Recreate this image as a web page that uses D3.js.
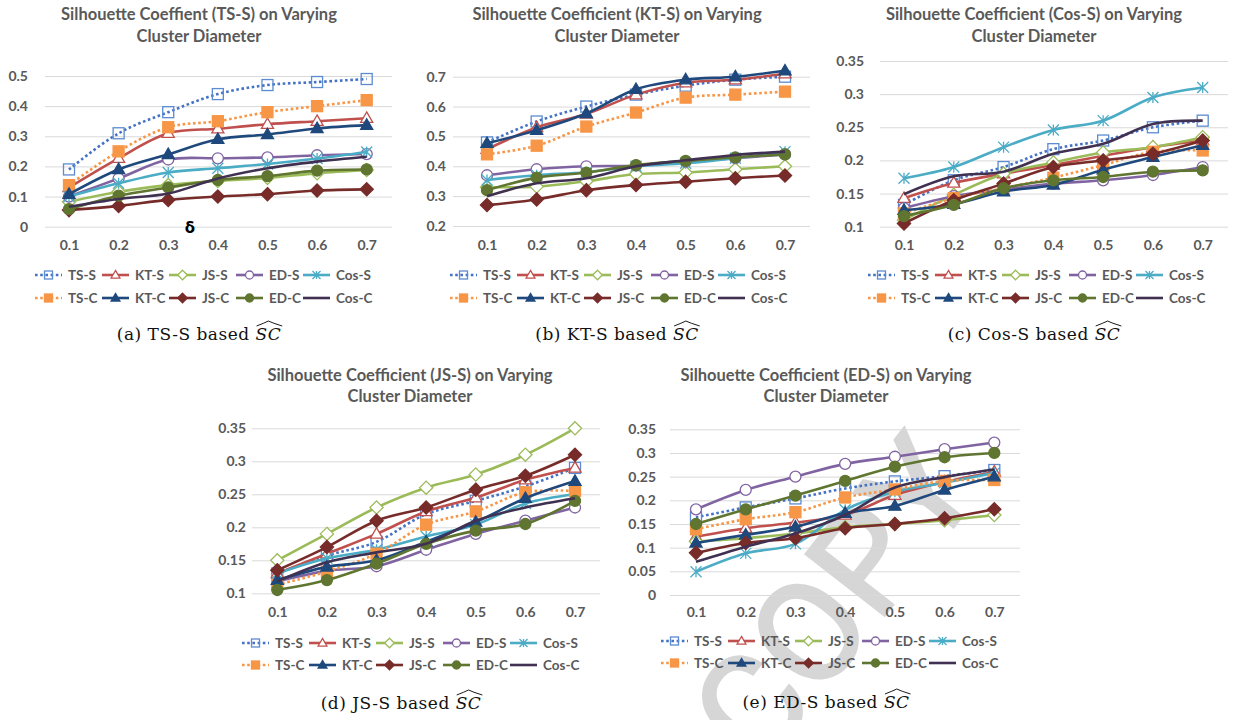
<!DOCTYPE html>
<html><head><meta charset="utf-8">
<script src="https://cdn.jsdelivr.net/npm/d3@7"></script>
<style>body{margin:0;background:#fff}svg{display:block}</style>
</head><body>
<svg id="chart" width="1235" height="720"></svg>
<script>
// ---------- DATA ----------
const xCats = [0.1, 0.2, 0.3, 0.4, 0.5, 0.6, 0.7];
const xLabels = ["0.1", "0.2", "0.3", "0.4", "0.5", "0.6", "0.7"];
const seriesNames = ["TS-S", "KT-S", "JS-S", "ED-S", "Cos-S", "TS-C", "KT-C", "JS-C", "ED-C", "Cos-C"];

// (a) TS-S based
const valuesA = [
  [0.19, 0.31, 0.38, 0.44, 0.47, 0.48, 0.49],
  [0.13, 0.227, 0.31, 0.325, 0.34, 0.35, 0.36],
  [0.083, 0.116, 0.138, 0.152, 0.162, 0.177, 0.188],
  [0.10, 0.16, 0.223, 0.227, 0.23, 0.237, 0.241],
  [0.10, 0.144, 0.18, 0.194, 0.208, 0.226, 0.248],
  [0.138, 0.25, 0.33, 0.35, 0.38, 0.40, 0.42],
  [0.108, 0.19, 0.24, 0.29, 0.306, 0.326, 0.337],
  [0.055, 0.069, 0.089, 0.10, 0.108, 0.12, 0.124],
  [0.058, 0.103, 0.13, 0.155, 0.168, 0.186, 0.19],
  [0.066, 0.092, 0.11, 0.16, 0.194, 0.216, 0.232]
];
// (b) KT-S based
const valuesB = [
  [0.48, 0.55, 0.60, 0.64, 0.67, 0.69, 0.70],
  [0.457, 0.53, 0.575, 0.64, 0.68, 0.69, 0.71],
  [0.33, 0.332, 0.35, 0.374, 0.379, 0.39, 0.40],
  [0.37, 0.39, 0.40, 0.402, 0.415, 0.427, 0.44],
  [0.354, 0.37, 0.38, 0.40, 0.41, 0.427, 0.449],
  [0.44, 0.469, 0.533, 0.58, 0.63, 0.64, 0.65],
  [0.477, 0.521, 0.577, 0.658, 0.69, 0.70, 0.72],
  [0.27, 0.289, 0.32, 0.337, 0.348, 0.36, 0.369],
  [0.32, 0.362, 0.379, 0.404, 0.418, 0.43, 0.44],
  [0.30, 0.343, 0.36, 0.40, 0.42, 0.438, 0.449]
];
// (c) Cos-S based
const valuesC = [
  [0.133, 0.17, 0.19, 0.217, 0.23, 0.25, 0.26],
  [0.143, 0.166, 0.18, 0.193, 0.207, 0.22, 0.23],
  [0.11, 0.148, 0.18, 0.197, 0.212, 0.22, 0.235],
  [0.128, 0.146, 0.156, 0.165, 0.17, 0.178, 0.19],
  [0.173, 0.19, 0.22, 0.246, 0.26, 0.295, 0.31],
  [0.12, 0.143, 0.158, 0.174, 0.193, 0.213, 0.215],
  [0.125, 0.134, 0.153, 0.163, 0.186, 0.205, 0.223],
  [0.105, 0.14, 0.165, 0.19, 0.20, 0.21, 0.23],
  [0.116, 0.133, 0.158, 0.17, 0.175, 0.183, 0.185],
  [0.149, 0.176, 0.183, 0.21, 0.225, 0.255, 0.26]
];
// (d) JS-S based
const valuesD = [
  [0.13, 0.157, 0.178, 0.22, 0.24, 0.262, 0.29],
  [0.13, 0.16, 0.19, 0.224, 0.245, 0.272, 0.29],
  [0.15, 0.19, 0.23, 0.26, 0.28, 0.31, 0.35],
  [0.118, 0.134, 0.141, 0.166, 0.19, 0.21, 0.23],
  [0.13, 0.153, 0.166, 0.186, 0.204, 0.236, 0.25],
  [0.113, 0.133, 0.16, 0.204, 0.224, 0.253, 0.255],
  [0.12, 0.14, 0.15, 0.178, 0.208, 0.244, 0.27],
  [0.135, 0.17, 0.21, 0.23, 0.257, 0.278, 0.31],
  [0.105, 0.12, 0.145, 0.175, 0.195, 0.205, 0.24],
  [0.118, 0.147, 0.162, 0.175, 0.21, 0.23, 0.244]
];
// (e) ED-S based
const valuesE = [
  [0.164, 0.185, 0.204, 0.225, 0.24, 0.251, 0.264],
  [0.123, 0.141, 0.153, 0.169, 0.211, 0.239, 0.26],
  [0.113, 0.12, 0.13, 0.143, 0.15, 0.158, 0.169],
  [0.181, 0.222, 0.25, 0.277, 0.292, 0.308, 0.322],
  [0.049, 0.088, 0.108, 0.18, 0.218, 0.237, 0.258],
  [0.139, 0.16, 0.175, 0.206, 0.223, 0.241, 0.243],
  [0.11, 0.127, 0.144, 0.173, 0.188, 0.222, 0.25],
  [0.089, 0.11, 0.12, 0.141, 0.15, 0.162, 0.181],
  [0.15, 0.181, 0.21, 0.241, 0.271, 0.291, 0.30],
  [0.07, 0.102, 0.13, 0.169, 0.227, 0.249, 0.265]
];

const yTicksA = [0, 0.1, 0.2, 0.3, 0.4, 0.5];
const yTicksB = [0.2, 0.3, 0.4, 0.5, 0.6, 0.7];
const yTicksC = [0.1, 0.15, 0.2, 0.25, 0.3, 0.35];
const yTicksD = [0.1, 0.15, 0.2, 0.25, 0.3, 0.35];
const yTicksE = [0, 0.05, 0.1, 0.15, 0.2, 0.25, 0.3, 0.35];

const titlesA = ["Silhouette Coeffient (TS-S) on Varying", "Cluster Diameter"];
const titlesB = ["Silhouette Coefficient (KT-S) on Varying", "Cluster Diameter"];
const titlesC = ["Silhouette Coefficient (Cos-S) on Varying", "Cluster Diameter"];
const titlesD = ["Silhouette Coefficient (JS-S) on Varying", "Cluster Diameter"];
const titlesE = ["Silhouette Coefficient (ED-S) on Varying", "Cluster Diameter"];
const captions = ["(a) TS-S based ", "(b) KT-S based ", "(c) Cos-S based ", "(d) JS-S based ", "(e) ED-S based "];

// ---------- STYLES ----------
const styles = {
  "TS-S":  {color: "#4472C4", dash: "2.6,2.6", marker: "square",   filled: false, mcolor: "#5B8BD0"},
  "KT-S":  {color: "#C0504D", dash: null,      marker: "triangle", filled: false, mcolor: "#C0504D"},
  "JS-S":  {color: "#9BBB59", dash: null,      marker: "diamond",  filled: false, mcolor: "#9BBB59"},
  "ED-S":  {color: "#8064A2", dash: null,      marker: "circle",   filled: false, mcolor: "#8064A2"},
  "Cos-S": {color: "#4BACC6", dash: null,      marker: "star",     filled: false, mcolor: "#4BACC6"},
  "TS-C":  {color: "#F79646", dash: "2.6,2.6", marker: "square",   filled: true,  mcolor: "#F79646"},
  "KT-C":  {color: "#1F497D", dash: null,      marker: "triangle", filled: true,  mcolor: "#1F497D"},
  "JS-C":  {color: "#772C2A", dash: null,      marker: "diamond",  filled: true,  mcolor: "#772C2A"},
  "ED-C":  {color: "#5F7530", dash: null,      marker: "circle",   filled: true,  mcolor: "#5F7530"},
  "Cos-C": {color: "#403152", dash: null,      marker: "none",     filled: true,  mcolor: "#403152"}
};

const panels = [
  {values: valuesA, yTicks: yTicksA, titles: titlesA, cap: captions[0],
   gx0: 45, gx1: 392, px0: 69, px1: 366.7, yTop: 76, yBot: 226.7, labelRight: 28,
   tcx: 199, t1y: 20, t2y: 42, xLabC: 245, legX: 35, legY1: 275, legY2: 298, capX: 199, capY: 340},
  {values: valuesB, yTicks: yTicksB, titles: titlesB, cap: captions[1],
   gx0: 453, gx1: 810, px0: 487, px1: 785, yTop: 76.7, yBot: 226, labelRight: 446,
   tcx: 617, t1y: 20, t2y: 42, xLabC: 245, legX: 450, legY1: 275, legY2: 298, capX: 617, capY: 340},
  {values: valuesC, yTicks: yTicksC, titles: titlesC, cap: captions[2],
   gx0: 880, gx1: 1228, px0: 904, px1: 1202.7, yTop: 61, yBot: 226.7, labelRight: 864,
   tcx: 1034, t1y: 20, t2y: 42, xLabC: 245, legX: 868, legY1: 275, legY2: 298, capX: 1034, capY: 340},
  {values: valuesD, yTicks: yTicksD, titles: titlesD, cap: captions[3],
   gx0: 252, gx1: 600, px0: 277.3, px1: 575, yTop: 428.3, yBot: 593.3, labelRight: 246,
   tcx: 410, t1y: 381, t2y: 402, xLabC: 612, legX: 242, legY1: 643, legY2: 665, capX: 401, capY: 709},
  {values: valuesE, yTicks: yTicksE, titles: titlesE, cap: captions[4],
   gx0: 670, gx1: 1020, px0: 696, px1: 994.3, yTop: 429.3, yBot: 595, labelRight: 656,
   tcx: 826, t1y: 381, t2y: 402, xLabC: 612, legX: 661, legY1: 641, legY2: 663, capX: 826, capY: 708}
];

const svg = d3.select("#chart");
svg.append("rect").attr("width", 1235).attr("height", 720).attr("fill", "#fff");

// watermark (under the charts)
svg.append("text")
  .attr("transform", "translate(762,772) rotate(-52)")
  .attr("font-family", "Roboto, 'Open Sans', 'DejaVu Sans', sans-serif")
  .attr("font-weight", 400)
  .attr("font-size", 140)
  .attr("fill", "#d6d6d6")
  .attr("stroke", "#d6d6d6")
  .attr("stroke-width", 3)
  .text("COPY");

const GRAY = "#595959";
const FONT = "Lato, Carlito, 'Open Sans', sans-serif";

function drawMarker(g, type, filled, color, s, cx, cy) {
  const fill = filled ? color : (type === "square" ? "none" : "#fff");
  const sw = 1.3;
  if (type === "square") {
    g.append("rect").attr("x", cx - s / 2).attr("y", cy - s / 2).attr("width", s).attr("height", s)
      .attr("fill", fill).attr("stroke", color).attr("stroke-width", sw);
  } else if (type === "triangle") {
    const h = s * 0.95, w = s * 1.1;
    g.append("path").attr("d", `M${cx},${cy - h * 0.6}L${cx + w / 2},${cy + h * 0.4}L${cx - w / 2},${cy + h * 0.4}Z`)
      .attr("fill", fill).attr("stroke", color).attr("stroke-width", sw);
  } else if (type === "diamond") {
    const r = s * 0.6;
    g.append("path").attr("d", `M${cx},${cy - r}L${cx + r},${cy}L${cx},${cy + r}L${cx - r},${cy}Z`)
      .attr("fill", fill).attr("stroke", color).attr("stroke-width", sw);
  } else if (type === "circle") {
    g.append("circle").attr("cx", cx).attr("cy", cy).attr("r", s / 2)
      .attr("fill", fill).attr("stroke", color).attr("stroke-width", sw);
  } else if (type === "star") {
    const r = s / 2;
    g.append("path").attr("d",
      `M${cx - r},${cy - r}L${cx + r},${cy + r}M${cx - r},${cy + r}L${cx + r},${cy - r}M${cx},${cy - r}L${cx},${cy + r}`)
      .attr("fill", "none").attr("stroke", color).attr("stroke-width", 1.3);
  }
}

panels.forEach((p) => {
  const g = svg.append("g");
  const x = d3.scalePoint().domain(xCats).range([p.px0, p.px1]);
  const y = d3.scaleLinear().domain([p.yTicks[0], p.yTicks[p.yTicks.length - 1]]).range([p.yBot, p.yTop]);

  // y axis with gridlines
  const yAxis = d3.axisLeft(y).tickValues(p.yTicks)
    .tickFormat(d => d === 0 ? "0" : String(+d.toFixed(2)))
    .tickSize(-(p.gx1 - p.gx0)).tickPadding(p.gx0 - p.labelRight);
  const ya = g.append("g").attr("transform", `translate(${p.gx0},0)`).call(yAxis);
  ya.select(".domain").remove();
  ya.selectAll(".tick line").attr("stroke", "#d9d9d9").attr("stroke-width", 1);
  ya.selectAll(".tick text").attr("fill", GRAY).attr("font-family", FONT).attr("font-weight", 700).attr("font-size", 14);

  // x axis labels
  const xAxis = d3.axisBottom(x).tickSize(0).tickFormat((d, i) => xLabels[i]).tickPadding(p.xLabC - p.yBot - 5);
  const xa = g.append("g").attr("transform", `translate(0,${p.yBot})`).call(xAxis);
  xa.select(".domain").remove();
  xa.selectAll(".tick text").attr("fill", GRAY).attr("font-family", FONT).attr("font-weight", 700).attr("font-size", 14);

  // title
  g.append("text").attr("x", p.tcx).attr("y", p.t1y).attr("text-anchor", "middle")
    .attr("font-family", FONT).attr("font-weight", 700).attr("font-size", 16.5).attr("fill", GRAY).text(p.titles[0]);
  g.append("text").attr("x", p.tcx).attr("y", p.t2y).attr("text-anchor", "middle")
    .attr("font-family", FONT).attr("font-weight", 700).attr("font-size", 16.5).attr("fill", GRAY).text(p.titles[1]);

  // series
  const line = d3.line().x((d, i) => x(xCats[i])).y(d => y(d)).curve(d3.curveCatmullRom.alpha(0.5));
  seriesNames.forEach((name, si) => {
    const st = styles[name];
    const vals = p.values[si];
    const sg = g.append("g");
    sg.append("path").datum(vals).attr("d", line).attr("fill", "none")
      .attr("stroke", st.color).attr("stroke-width", 2.6)
      .attr("stroke-dasharray", st.dash).attr("stroke-linejoin", "round");
    vals.forEach((v, i) => drawMarker(sg, st.marker, st.filled, st.mcolor, 11, x(xCats[i]), y(v)));
  });

  // legend
  seriesNames.forEach((name, si) => {
    const st = styles[name];
    const col = si % 5, row = Math.floor(si / 5);
    const lx = p.legX + col * 67;
    const ly = row === 0 ? p.legY1 : p.legY2;
    g.append("line").attr("x1", lx).attr("x2", lx + 27).attr("y1", ly).attr("y2", ly)
      .attr("stroke", st.color).attr("stroke-width", 2.6).attr("stroke-dasharray", st.dash);
    drawMarker(g, st.marker, st.filled, st.mcolor, 8, lx + 13.5, ly);
    g.append("text").attr("x", lx + 33).attr("y", ly).attr("dy", "0.36em")
      .attr("font-family", FONT).attr("font-weight", 700).attr("font-size", 13.5).attr("fill", GRAY).text(name);
  });

  // caption
  const t = g.append("text").attr("y", p.capY).attr("font-family", "'DejaVu Serif', 'Liberation Serif', serif")
    .attr("font-size", 17).attr("letter-spacing", 0.5).attr("fill", "#111");
  t.append("tspan").text(p.cap);
  t.append("tspan").attr("font-style", "italic").text("SC");
  const tl = t.node().getComputedTextLength();
  t.attr("x", p.capX - tl / 2);
  const n = p.cap.length;
  const sx = t.node().getStartPositionOfChar(n).x;
  const ex = t.node().getEndPositionOfChar(n + 1).x;
  const hy = p.capY - 15;
  g.append("path")
    .attr("d", `M${sx + 1},${hy + 1}Q${(sx + ex) / 2 - 4},${hy - 2} ${(sx + ex) / 2},${hy - 4}Q${(sx + ex) / 2 + 4},${hy - 2} ${ex + 1},${hy + 1}`)
    .attr("fill", "none").attr("stroke", "#000").attr("stroke-width", 0.9);
});

// delta symbol on panel (a)
svg.append("text").attr("x", 190).attr("y", 228).attr("dy", "0.36em").attr("text-anchor", "middle")
  .attr("font-family", "'DejaVu Sans', sans-serif").attr("font-weight", 700).attr("font-size", 15)
  .attr("fill", "#000").text("δ");
</script>
</body></html>
